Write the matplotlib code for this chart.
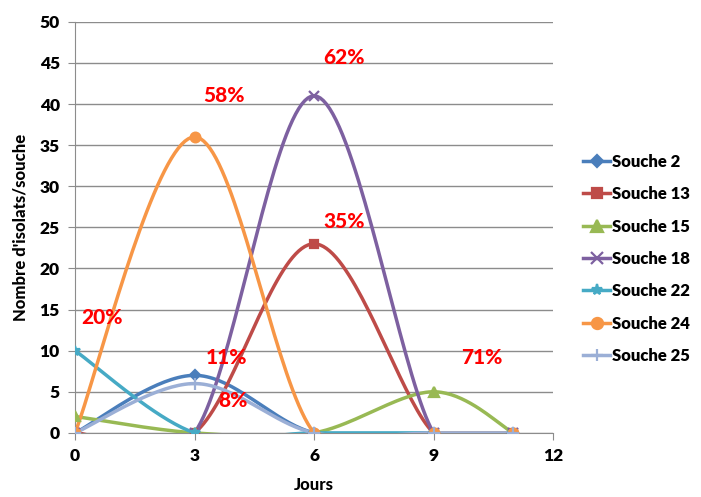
import numpy as np
import matplotlib.pyplot as plt

plt.rcParams['font.family'] = ['Lato', 'DejaVu Sans']
plt.rcParams['font.weight'] = 'heavy'

jours = [0, 3, 6, 9, 11]
souches = ["Souche 2", "Souche 13", "Souche 15", "Souche 18",
           "Souche 22", "Souche 24", "Souche 25"]
s2 = [0, 7, 0, 0, 0]
s13 = [0, 0, 23, 0, 0]
s15 = [2, 0, 0, 5, 0]
s18 = [0, 0, 41, 0, 0]
s22 = [10, 0, 0, 0, 0]
s24 = [0, 36, 0, 0, 0]
s25 = [0, 6, 0, 0, 0]

pourcentages = ["20%", "58%", "62%", "35%", "11%", "8%", "71%"]
pos_pct = [(0.68, 14.0), (3.75, 41.0), (6.75, 45.7), (6.75, 25.7),
           (3.8, 9.2), (3.97, 4.0), (10.2, 9.2)]

colors = ["#4A7EBB", "#BE4B48", "#98B954", "#7D60A0", "#46AAC5", "#F79646", "#9BAFD6"]
markers = ["D", "s", "^", "x", "*", "o", "+"]
msizes = [5, 6, 7, 7, 7, 7, 8]


def smooth(x, y, n=40):
    # Catmull-Rom style bezier, like a spreadsheet "smoothed line"
    x = np.asarray(x, float)
    y = np.asarray(y, float)
    px = np.concatenate([[x[0]], x, [x[-1]]])
    py = np.concatenate([[y[0]], y, [y[-1]]])
    xs, ys = [], []
    t = np.linspace(0, 1, n)
    for i in range(1, len(px) - 2):
        p0 = np.array([px[i], py[i]])
        p3 = np.array([px[i + 1], py[i + 1]])
        c1 = p0 + (np.array([px[i + 1], py[i + 1]]) - np.array([px[i - 1], py[i - 1]])) / 6
        c2 = p3 - (np.array([px[i + 2], py[i + 2]]) - np.array([px[i], py[i]])) / 6
        b = ((1 - t) ** 3)[:, None] * p0 + (3 * (1 - t) ** 2 * t)[:, None] * c1 \
            + (3 * (1 - t) * t ** 2)[:, None] * c2 + (t ** 3)[:, None] * p3
        xs.extend(b[:, 0])
        ys.extend(b[:, 1])
    return xs, ys


fig = plt.figure(figsize=(7.01, 4.97), dpi=100)
ax = fig.add_axes([0.107, 0.129, 0.682, 0.827])

for name, vals, c, m, ms in zip(souches, [s2, s13, s15, s18, s22, s24, s25],
                                colors, markers, msizes):
    sx, sy = smooth(jours, vals)
    ax.plot(sx, sy, color=c, lw=2.5, zorder=3)
    ax.plot(jours, vals, linestyle='none', marker=m, color=c, ms=ms,
            mew=1.6, zorder=4)
    ax.plot([], [], color=c, lw=2.5, marker=m, ms=ms + 1, mew=1.6, label=name)

for txt, (tx, ty) in zip(pourcentages, pos_pct):
    ax.text(tx, ty, txt, color="#FF0000", fontsize=15, fontweight='black',
            ha='center', va='center', zorder=5)

ax.set_xlim(0, 12)
ax.set_ylim(0, 50)
ax.set_xticks([0, 3, 6, 9, 12])
ax.set_yticks(range(0, 51, 5))
ax.yaxis.grid(True, color="#8C8C8C", lw=1)
ax.set_axisbelow(True)
for s in ['top', 'right']:
    ax.spines[s].set_visible(False)
for s in ['left', 'bottom']:
    ax.spines[s].set_color("#8C8C8C")
ax.tick_params(axis='both', colors="#8C8C8C", labelcolor='black',
               labelsize=12.5, length=5, pad=6)
ax.set_xlabel("Jours", fontsize=12, fontweight='black', labelpad=9)
ax.set_ylabel("Nombre d'isolats/souche", fontsize=12, fontweight='black', labelpad=8)

fig.legend(loc='center left', bbox_to_anchor=(0.832, 0.479), frameon=False,
           fontsize=12, labelspacing=0.98, handlelength=1.6, handletextpad=0.15,
           borderaxespad=0, borderpad=0)

fig.savefig("out.png", dpi=100)
